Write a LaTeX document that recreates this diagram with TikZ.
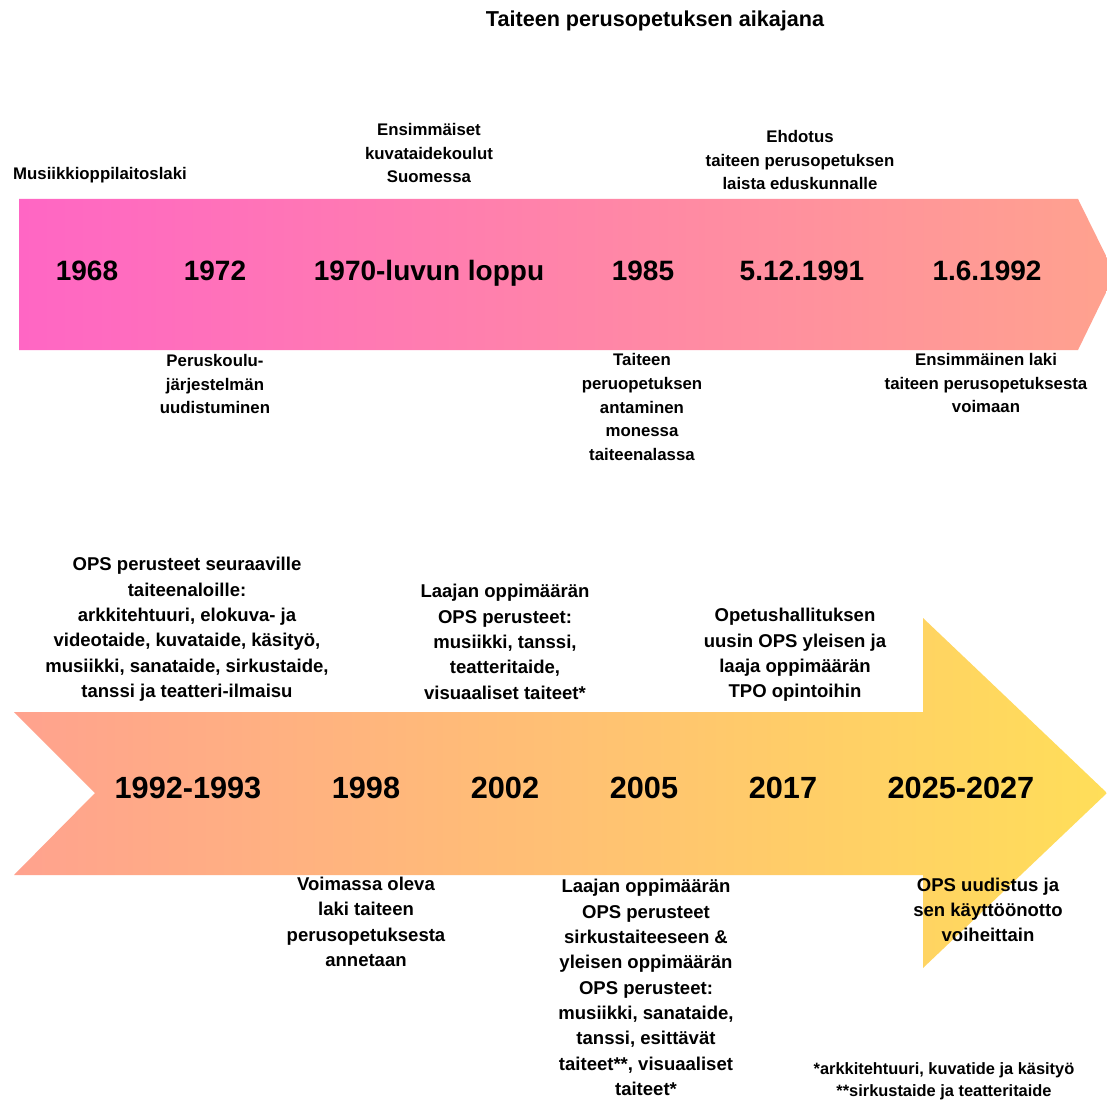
\documentclass[tikz,border=0pt]{standalone}
\usepackage{fontspec}
\setmainfont{Liberation Sans}
\usetikzlibrary{positioning}
\definecolor{my_pink}{RGB}{255, 102, 196}
\definecolor{my_salmon}{RGB}{255, 162, 142}
\definecolor{my_yellow}{RGB}{255, 222, 89}
\tikzset {
  band/.style = {draw=none},
  year/.style = {inner sep=0, anchor=base, font=\bfseries\fontsize{21}{25}\selectfont},
  bigyear/.style = {year, font=\bfseries\fontsize{23}{27}\selectfont},
  note/.style = {inner sep=0, align=center, font=\bfseries\fontsize{12.6}{17.8}\selectfont},
  bignote/.style = {note, font=\bfseries\fontsize{13.9}{19}\selectfont},
  smallnote/.style = {note, font=\bfseries\fontsize{12.3}{16.5}\selectfont},
  heading/.style = {inner sep=0, anchor=base, font=\bfseries\fontsize{16.2}{20}\selectfont}
}

\begin{document}
\begin{tikzpicture}[x=0.75pt, y=-0.75pt]

    \useasboundingbox (0,0) rectangle (1107,1102);
    \clip (0,0) rectangle (1107,1102);
    \fill[white] (0,0) rectangle (1107,1102);

    % the two arrows
    \path[band, left color=my_pink, right color=my_salmon] (19,199) -- (1078,199) -- (1115,274) -- (1078,350) -- (19,350) -- cycle;
    \path[band, left color=my_salmon, right color=my_yellow] (14,712) -- (923,712) -- (923,618) -- (1107,793) -- (923,968) -- (923,875) -- (14,875) -- (95,793) -- cycle;

    \node[heading] (title) at (655,27) {Taiteen perusopetuksen aikajana};

    \node[year] (y1968) at (87,280) {1968};
    \node[year] (y1972) at (215,280) {1972};
    \node[year] (y1970) at (429,280) {1970-luvun loppu};
    \node[year] (y1985) at (643,280) {1985};
    \node[year] (y1991) at (802,280) {5.12.1991};
    \node[year] (y1992) at (987,280) {1.6.1992};

    \node[note] (n1968) at (100,175) {Musiikkioppilaitoslaki};
    \node[note] (n1970) at (429,153) {Ensimmäiset\\kuvataidekoulut\\Suomessa};
    \node[note] (n1991) at (800,160) {Ehdotus\\taiteen perusopetuksen\\laista eduskunnalle};
    \node[note] (n1972) at (215,384) {Peruskoulu-\\järjestelmän\\uudistuminen};
    \node[note] (n1985) at (642,407) {Taiteen\\peruopetuksen\\antaminen\\monessa\\taiteenalassa};
    \node[note] (n1992) at (986,383) {Ensimmäinen laki\\taiteen perusopetuksesta\\voimaan};

    \node[bigyear] (y1993) at (188,798) {1992-1993};
    \node[bigyear] (y1998) at (366,798) {1998};
    \node[bigyear] (y2002) at (505,798) {2002};
    \node[bigyear] (y2005) at (644,798) {2005};
    \node[bigyear] (y2017) at (783,798) {2017};
    \node[bigyear] (y2025) at (961,798) {2025-2027};

    \node[bignote] (n1993) at (187,629.5) {OPS perusteet seuraaville\\taiteenaloille:\\arkkitehtuuri, elokuva- ja\\videotaide, kuvataide, käsityö,\\musiikki, sanataide, sirkustaide,\\tanssi ja teatteri-ilmaisu};
    \node[bignote] (n2002) at (505,642) {Laajan oppimäärän\\OPS perusteet:\\musiikki, tanssi,\\teatteritaide,\\visuaaliset taiteet*};
    \node[bignote] (n2017) at (795,655) {Opetushallituksen\\uusin OPS yleisen ja\\laaja oppimäärän\\TPO opintoihin};
    \node[bignote] (n1998) at (366,922) {Voimassa oleva\\laki taiteen\\perusopetuksesta\\annetaan};
    \node[bignote] (n2005) at (646,987.5) {Laajan oppimäärän\\OPS perusteet\\sirkustaiteeseen \&\\yleisen oppimäärän\\OPS perusteet:\\musiikki, sanataide,\\tanssi, esittävät\\taiteet**, visuaaliset\\taiteet*};
    \node[bignote] (n2025) at (988,910) {OPS uudistus ja\\sen käyttöönotto\\voiheittain};

    \node[smallnote] (stars) at (944,1081) {*arkkitehtuuri, kuvatide ja käsityö\\**sirkustaide ja teatteritaide};

\end{tikzpicture}
\end{document}
